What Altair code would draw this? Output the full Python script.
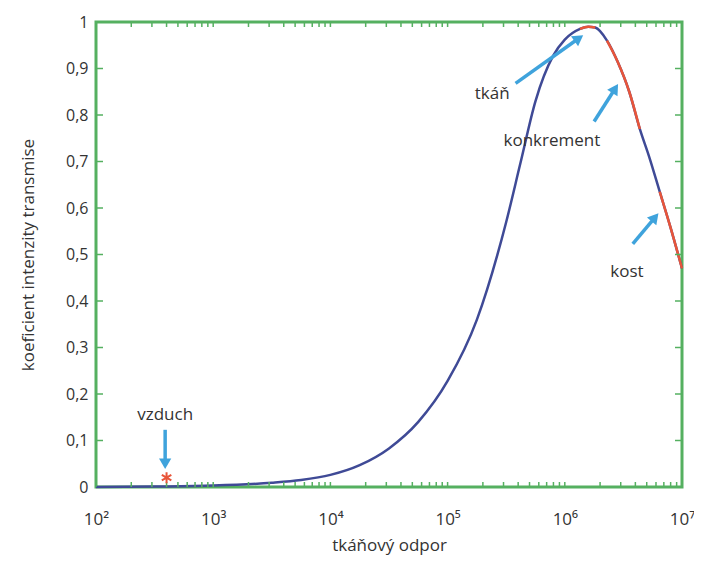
import math
import altair as alt
import pandas as pd

# ---- data ----
curve_log_z = [2.0, 2.5, 3.0, 3.5, 3.75, 4.0, 4.25, 4.5, 4.75, 5.0, 5.25, 5.5, 5.62,
               5.75, 5.9, 6.0, 6.13, 6.2, 6.26, 6.36, 6.45, 6.55, 6.64, 6.72, 6.81,
               6.9, 7.0]
curve_t = [0.000, 0.001, 0.003, 0.009, 0.015, 0.026, 0.047, 0.083, 0.14, 0.228, 0.36,
           0.57, 0.695, 0.83, 0.927, 0.962, 0.985, 0.99, 0.988, 0.96, 0.915, 0.85,
           0.77, 0.71, 0.635, 0.56, 0.47]

red_names = ["tkáň", "konkrement", "kost"]
red_from = [6.13, 6.36, 6.81]
red_to = [6.26, 6.64, 7.0]

air_z = [400]
air_t = [0.02]

label_text = ["vzduch", "tkáň", "konkrement", "kost"]
label_log_z = [2.59, 5.38, 5.89, 6.53]
label_t = [0.155, 0.845, 0.745, 0.462]

arrow_log_z1 = [2.59, 5.58, 6.25, 6.58]
arrow_t1 = [0.123, 0.868, 0.786, 0.523]
arrow_log_z2 = [2.59, 6.12, 6.43, 6.77]
arrow_t2 = [0.05, 0.965, 0.857, 0.58]

x_major = [1e2, 1e3, 1e4, 1e5, 1e6, 1e7]
y_ticks = [0, 0.1, 0.2, 0.3, 0.4, 0.5, 0.6, 0.7, 0.8, 0.9, 1.0]

W, H = 586, 465
GREEN = "#55b060"
BLUE = "#3f4a96"
RED = "#e8553a"
ARROW = "#3fa3dc"
FONT = "Open Sans"
TXT = "#333333"

curve = pd.DataFrame({"z": [10 ** v for v in curve_log_z], "t": curve_t})
rows = []
for n, a, b in zip(red_names, red_from, red_to):
    for lz, t in zip(curve_log_z, curve_t):
        if a - 1e-9 <= lz <= b + 1e-9:
            rows.append({"seg": n, "z": 10 ** lz, "t": t})
red = pd.DataFrame(rows)

xs = alt.Scale(type="log", domain=[100, 1e7], nice=False)
ys = alt.Scale(domain=[0, 1], nice=False)

base_x = alt.X("z:Q", scale=xs, title="tkáňový odpor",
               axis=alt.Axis(values=x_major, ticks=False, domain=False, grid=False,
                             labelFlush=False, labelBound=False,
                             labelPadding=24, labelFontSize=17, labelFont=FONT,
                             labelColor=TXT, titleFont=FONT, titleFontSize=17,
                             titleFontWeight="normal", titleColor=TXT, titlePadding=10,
                             labelExpr="'10' + ['⁰','¹','²','³','⁴','⁵','⁶','⁷'][round(log(datum.value)/LN10)]"))
base_y = alt.Y("t:Q", scale=ys, title="koeficient intenzity transmise",
               axis=alt.Axis(values=y_ticks, ticks=False, domain=False, grid=False,
                             labelFlush=False, labelBound=False,
                             labelPadding=8, labelFontSize=16, labelFont=FONT,
                             labelColor=TXT, titleFont=FONT, titleFontSize=17,
                             titleFontWeight="normal", titleColor=TXT, titlePadding=28,
                             labelExpr="replace(format(datum.value, '.1~f'), '.', ',')"))

line = alt.Chart(curve).mark_line(color=BLUE, strokeWidth=2.5, interpolate="monotone").encode(
    x=base_x, y=base_y)
red_line = alt.Chart(red).mark_line(color=RED, strokeWidth=2.5, interpolate="monotone").encode(
    x=alt.X("z:Q", scale=xs), y=alt.Y("t:Q", scale=ys), detail="seg:N")

# ticks (inside the frame)
minor = []
for k in range(2, 7):
    for m in range(1, 10):
        minor.append({"z": m * 10 ** k})
minor_df = pd.DataFrame(minor)
ytk = pd.DataFrame({"t": y_ticks[1:-1]})

xt_bottom = alt.Chart(minor_df).mark_rule(color=GREEN, strokeWidth=1.5).encode(
    x=alt.X("z:Q", scale=xs), y=alt.value(H), y2=alt.value(H - 5))
xt_top = alt.Chart(minor_df).mark_rule(color=GREEN, strokeWidth=1.5).encode(
    x=alt.X("z:Q", scale=xs), y=alt.value(0), y2=alt.value(5))
yt_left = alt.Chart(ytk).mark_rule(color=GREEN, strokeWidth=1.5).encode(
    y=alt.Y("t:Q", scale=ys), x=alt.value(0), x2=alt.value(7))
yt_right = alt.Chart(ytk).mark_rule(color=GREEN, strokeWidth=1.5).encode(
    y=alt.Y("t:Q", scale=ys), x=alt.value(W - 7), x2=alt.value(W))

air = alt.Chart(pd.DataFrame({"z": air_z, "t": air_t})).mark_point(
    shape="M0,-1L0,1M-0.87,-0.5L0.87,0.5M-0.87,0.5L0.87,-0.5",
    size=120, color=RED, filled=False, strokeWidth=2, opacity=1).encode(
    x=alt.X("z:Q", scale=xs), y=alt.Y("t:Q", scale=ys))

labels = alt.Chart(pd.DataFrame({"txt": label_text, "z": [10 ** v for v in label_log_z],
                                 "t": label_t})).mark_text(
    font=FONT, fontSize=17, color=TXT, align="center", baseline="middle").encode(
    x=alt.X("z:Q", scale=xs), y=alt.Y("t:Q", scale=ys), text="txt:N")

px_per_dec = W / 5.0
angles = []
for a1, b1, a2, b2 in zip(arrow_log_z1, arrow_t1, arrow_log_z2, arrow_t2):
    dx = (a2 - a1) * px_per_dec
    dy = -(b2 - b1) * H
    angles.append(math.degrees(math.atan2(dx, -dy)) % 360)
arr = pd.DataFrame({"z1": [10 ** v for v in arrow_log_z1], "t1": arrow_t1,
                    "z2": [10 ** v for v in arrow_log_z2], "t2": arrow_t2, "ang": angles})
shafts = alt.Chart(arr).mark_rule(color=ARROW, strokeWidth=3.5).encode(
    x=alt.X("z1:Q", scale=xs), y=alt.Y("t1:Q", scale=ys), x2="z2:Q", y2="t2:Q")
heads = alt.Chart(arr).mark_point(shape="triangle-up", filled=True, color=ARROW,
                                  size=150, opacity=1).encode(
    x=alt.X("z2:Q", scale=xs), y=alt.Y("t2:Q", scale=ys),
    angle=alt.Angle("ang:Q", scale=None))

chart = alt.layer(line, red_line, xt_bottom, xt_top, yt_left, yt_right, air,
                  shafts, heads, labels).properties(
    width=W, height=H,
    background="white",
    autosize=alt.AutoSizeParams(type="none"),
    padding={"left": 88, "top": 14, "right": 12, "bottom": 70},
).configure_view(stroke=GREEN, strokeWidth=3)

chart.save("out.html", embed_options={"renderer": "svg", "actions": False})
